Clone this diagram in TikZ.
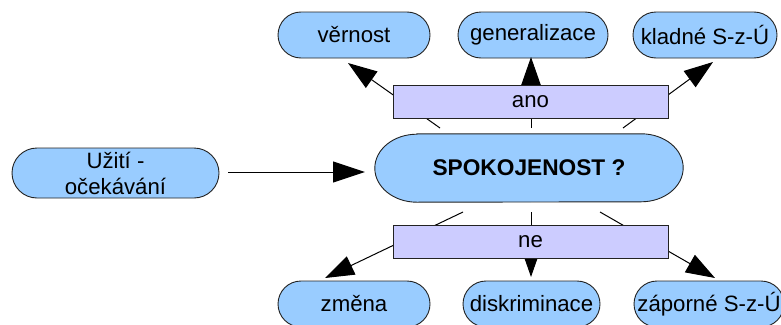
\documentclass[tikz,border=0pt]{standalone}
\usepackage{fontspec}
\setmainfont{Liberation Sans}
\usetikzlibrary{arrows.meta,shapes.misc}
\definecolor{pillblue}{HTML}{99CCFF}
\definecolor{lav}{HTML}{CCCCFF}
\definecolor{edge}{HTML}{222222}
\pgfdeclarelayer{background}
\pgfsetlayers{background,main}
\tikzset{
  txt/.style={font=\fontsize{22.2pt}{26pt}\selectfont, text=black},
  pill/.style={txt, rounded rectangle, draw=edge, line width=0.9pt, fill=pillblue,
    minimum height=46pt, inner sep=0pt},
  bar/.style={txt, rectangle, draw=edge, line width=0.9pt, fill=lav,
    minimum width=275pt, minimum height=33pt, inner sep=0pt},
  conn/.style={draw=black, line width=1pt, -{Triangle[length=29pt,width=20pt]}},
}
\begin{document}
\begin{tikzpicture}[x=1pt,y=1pt]
\useasboundingbox (0,0) rectangle (781,-324);
\clip (0,0) rectangle (781,-324);

% centre node
\node[txt, font=\fontsize{22.7pt}{26pt}\selectfont\bfseries, minimum width=308pt, minimum height=68pt, inner sep=0pt] (c) at (529,-168) {SPOKOJENOST ?};
\begin{pgfonlayer}{background}
\path[draw=edge, line width=0.9pt, fill=pillblue]
  ([xshift=42pt]c.north west) -- ([xshift=-42pt]c.north east)
  arc[start angle=90, end angle=-90, x radius=42pt, y radius=34pt]
  -- ([xshift=42pt]c.south west)
  arc[start angle=270, end angle=90, x radius=42pt, y radius=34pt] -- cycle;
\end{pgfonlayer}

% outer nodes
\node[pill, minimum width=152pt] (v) at (354,-35) {věrnost};
\node[pill, minimum width=150pt] (g) at (533,-35) {generalizace};
\node[pill, minimum width=144pt] (k) at (705,-35) {kladné S-z-Ú};
\node[pill, minimum width=152pt] (z) at (354,-304) {změna};
\node[pill, minimum width=137pt] (d) at (531.5,-304) {diskriminace};
\node[pill, minimum width=150pt] (zs) at (709,-304) {záporné S-z-Ú};
\node[pill, minimum width=207pt, minimum height=50pt, align=center] (u) at (115.5,-173) {Užití -\\očekávání};

% connector end points
\coordinate (a1) at (440,-128);
\coordinate (a2) at (531,-128);
\coordinate (a3) at (623,-128);
\coordinate (t1) at (348,-63);
\coordinate (t2) at (531,-57);
\coordinate (t3) at (713,-62);
\coordinate (b1) at (463,-212);
\coordinate (b2) at (531,-212);
\coordinate (b3) at (600,-212);
\coordinate (s1) at (325,-278);
\coordinate (s2) at (531,-277);
\coordinate (s3) at (715,-278);
\coordinate (u0) at (228,-172);
\coordinate (c0) at (365,-172);

\draw[conn] (a1) -- (t1);
\draw[conn] (a2) -- (t2);
\draw[conn] (a3) -- (t3);
\draw[conn] (b1) -- (s1);
\draw[conn] (b2) -- (s2);
\draw[conn] (b3) -- (s3);
\draw[conn, -{Triangle[length=32pt,width=21pt]}] (u0) -- (c0);

% bars on top of connectors
\node[bar] (ano) at (530.5,-101.5) {ano};
\node[bar] (ne) at (530.5,-241.5) {ne};
\end{tikzpicture}
\end{document}
